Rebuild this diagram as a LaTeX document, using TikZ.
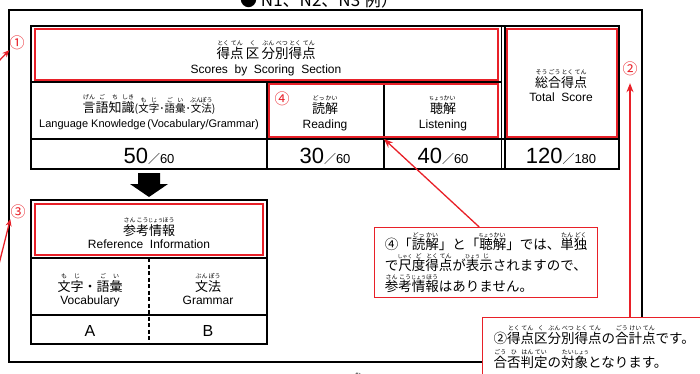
\documentclass[tikz,border=0pt]{standalone}
\usepackage{fontspec}
\setmainfont{Liberation Sans}
\newfontfamily\jp{Noto Sans CJK JP}
\usetikzlibrary{arrows.meta}
\definecolor{jred}{RGB}{232,32,40}

% furigana over a base text
\newdimen\rbraise
\newbox\rbbox
\newcommand\rbfont{\fontsize{6}{6}\selectfont}
\newcommand\rb[2]{\leavevmode\setbox\rbbox\hbox{#1}\rbraise=0.95em
  \hbox{\rlap{\hbox to\wd\rbbox{\hss\raisebox{\rbraise}{\rbfont #2}\hss}}\box\rbbox}}
% narrower furigana for long readings
\newcommand\rbs[2]{\rb{#1}{\fontsize{5}{5}\selectfont #2}}
% score with small maximum
\newcommand\pts[2]{#1{\jp\fontsize{12}{12}\selectfont ／}{\fontsize{13}{13}\selectfont #2}}

\tikzset{
  tbl/.style={draw=black, line width=1.1pt},
  redbox/.style={draw=jred, line width=1.4pt},
  jtxt/.style={font=\jp\fontsize{13}{15}\selectfont, inner sep=0pt, anchor=base},
  etxt/.style={font=\fontsize{12}{14}\selectfont, inner sep=0pt, anchor=base},
  score/.style={font=\fontsize{22}{24}\selectfont, inner sep=0pt, anchor=base},
  redno/.style={font=\jp\fontsize{15}{15}\selectfont, text=jred, inner sep=0pt},
  callout/.style={draw=jred, line width=1.4pt, fill=white, align=left, anchor=north west},
  redline/.style={draw=jred, line width=1.3pt, -{Stealth[length=9pt,width=7pt]}},
}

\begin{document}
\begin{tikzpicture}[x=1pt,y=-1pt]
    \useasboundingbox (0,0) rectangle (700,373);

    % Outer frame and cut heading
    \draw[line width=1.2pt] (9,10) rectangle (642,362);
    \node[anchor=base west, font=\jp\fontsize{17}{17}\selectfont, inner sep=0pt] (title) at (240,6) {● N1、N2、N3 例）};
    \node[anchor=base, font=\jp\rbfont, inner sep=0pt] (mu) at (358,377) {む};

    % Score table
    \draw[tbl] (31,26) rectangle (619,169);
    \draw[tbl] (31,82) -- (502,82);
    \draw[tbl] (31,139) -- (619,139);
    \draw[tbl] (267,82) -- (267,169);
    \draw[tbl] (384,82) -- (384,169);
    \draw[tbl] (501.5,26) -- (501.5,169);
    \draw[tbl] (505,26) -- (505,169);
    \draw[redbox] (35,29) rectangle (498,80);
    \draw[redbox] (269,84) rectangle (498,137);
    \draw[redbox] (507,29) rectangle (617,137);

    \node[jtxt, font=\jp\fontsize{13.5}{15}\selectfont] (hdj) at (266,58) {\rb{得}{とく}\rb{点}{てん}\,\rb{区}{く}\,\rb{分}{ぶん}\rb{別}{べつ}\rb{得}{とく}\rb{点}{てん}};
    \node[etxt] (hde) at (266,73) {Scores~~by~~Scoring~~Section};
    \node[jtxt] (lkj) at (149,112) {\rb{言}{げん}\rb{語}{ご}\rb{知}{ち}\rb{識}{しき}{\fontsize{10.5}{12}\selectfont (\rb{文}{も}\rb{字}{じ}･\rb{語}{ご}\rb{彙}{い}･\rb{文}{ぶん}\rb{法}{ぽう})}};
    \node[etxt, font=\fontsize{11}{13}\selectfont] (lke) at (149,127) {Language~Knowledge\,(Vocabulary/Grammar)};
    \node[jtxt] (rdj) at (325,113) {\rb{読}{どっ}\rb{解}{かい}};
    \node[etxt] (rde) at (325,128) {Reading};
    \node[jtxt] (lsj) at (443,113) {\rbs{聴}{ちょう}\rb{解}{かい}};
    \node[etxt] (lse) at (443,128) {Listening};
    \node[jtxt] (totj) at (561,87) {\rb{総}{そう}\rb{合}{ごう}\rb{得}{とく}\rb{点}{てん}};
    \node[etxt] (tote) at (561,101) {Total~~Score};

    \node[score] (s50) at (149,163) {\pts{50}{60}};
    \node[score] (s30) at (325,163) {\pts{30}{60}};
    \node[score] (s40) at (443,163) {\pts{40}{60}};
    \node[score] (s120) at (561,163) {\pts{120}{180}};

    % Down arrow
    \fill (138,173) -- (160,173) -- (160,184) -- (168,184) -- (149,197) -- (130,184) -- (138,184) -- cycle;

    % Reference table
    \draw[tbl] (31,200) rectangle (267,344);
    \draw[tbl] (31,258) -- (267,258);
    \draw[tbl] (31,315) -- (267,315);
    \draw[tbl, dash pattern=on 4pt off 2.5pt] (149,258) -- (149,344);
    \draw[redbox] (35,204) rectangle (263,255);

    \node[jtxt] (refj) at (149,235) {\rb{参}{さん}\rb{考}{こう}\rbs{情}{じょう}\rb{報}{ほう}};
    \node[etxt] (refe) at (149,248) {Reference~~Information};
    \node[jtxt] (vocj) at (90,291) {\rb{文}{も}\rb{字}{じ}・\rb{語}{ご}\rb{彙}{い}};
    \node[etxt] (voce) at (90,304) {Vocabulary};
    \node[jtxt] (grj) at (208,291) {\rb{文}{ぶん}\rb{法}{ぽう}};
    \node[etxt] (gre) at (208,304) {Grammar};
    \node[etxt, font=\fontsize{16}{18}\selectfont] (ga) at (90,336) {A};
    \node[etxt, font=\fontsize{16}{18}\selectfont] (gb) at (208,336) {B};

    % Red marks
    \node[redno] (no1) at (17,43) {①};
    \node[redno] (no2) at (630,69) {②};
    \node[redno] (no3) at (18,212) {③};
    \node[redno] (no4) at (282,99) {④};

    % Notes
    \node[callout, minimum width=223pt, minimum height=70pt, inner xsep=8pt,
          font=\jp\fontsize{13.5}{21}\selectfont] (note4) at (374,227)
      {④「\rb{読}{どっ}\rb{解}{かい}」と「\rbs{聴}{ちょう}\rb{解}{かい}」では、\rb{単}{たん}\rb{独}{どく}\\
       で\rbs{尺}{しゃく}\rb{度}{ど}\rb{得}{とく}\rb{点}{てん}が\rbs{表}{ひょう}\rb{示}{じ}されますので、\\
       \rb{参}{さん}\rb{考}{こう}\rbs{情}{じょう}\rb{報}{ほう}はありません。};
    \node[callout, inner xsep=11pt, inner ysep=8pt,
          font=\jp\fontsize{13.5}{24}\selectfont] (note2) at (482,317)
      {②\rb{得}{とく}\rb{点}{てん}\rb{区}{く}\rb{分}{ぶん}\rb{別}{べつ}\rb{得}{とく}\rb{点}{てん}の\rb{合}{ごう}\rb{計}{けい}\rb{点}{てん}です。\\
       \rb{合}{ごう}\rb{否}{ひ}\rb{判}{はん}\rb{定}{てい}の\rb{対}{たい}\rbs{象}{しょう}となります。};

    % Pointers
    \coordinate (rl) at (384,139);
    \coordinate (from1) at (-4,64);
    \coordinate (from3) at (-3,272);
    \draw[redline] ([xshift=-7pt]note4.north) -- (rl);
    \draw[redline, shorten >=7pt] (note2.north -| no2) -- (no2.south);
    \draw[redline, -{Stealth[length=7pt,width=6pt]}] (from1) -- (no1.south west);
    \draw[redline, -{Stealth[length=7pt,width=6pt]}] (from3) -- (no3.south west);

\end{tikzpicture}
\end{document}
